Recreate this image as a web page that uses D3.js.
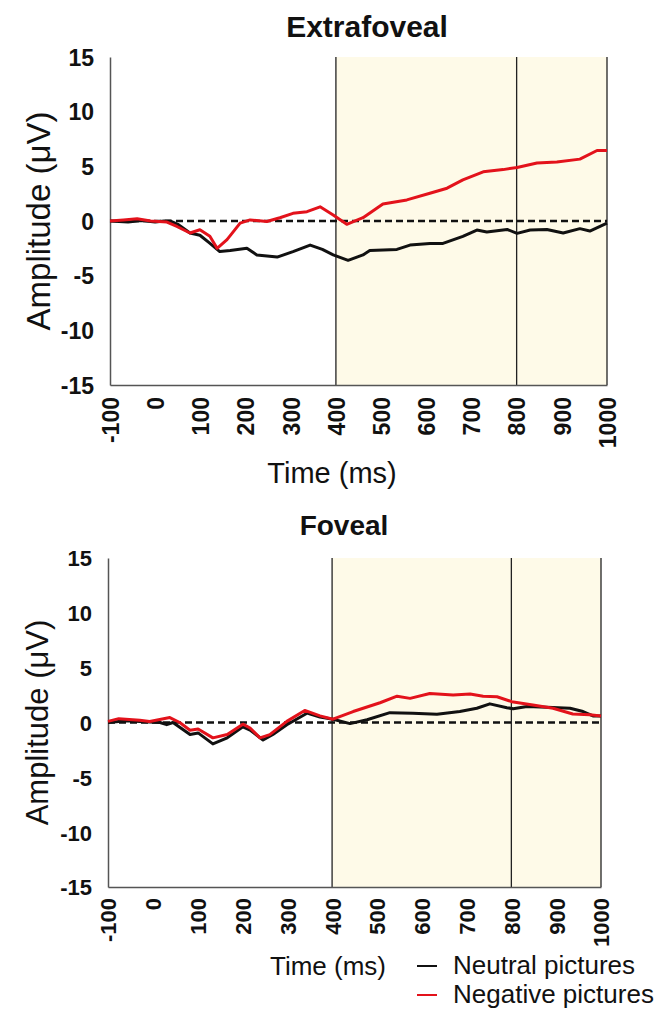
<!DOCTYPE html>
<html>
<head>
<meta charset="utf-8">
<script src="https://cdn.jsdelivr.net/npm/d3@7"></script>
<style>
  body { margin: 0; background: #ffffff; }
  svg text { font-family: "Liberation Sans", Arial, sans-serif; fill: #111; }
</style>
</head>
<body>
<svg id="fig" width="670" height="1020"></svg>
<script>
// tick values, shared by both panels
const timeTicks = [-100, 0, 100, 200, 300, 400, 500, 600, 700, 800, 900, 1000];
const ampTicks  = [-15, -10, -5, 0, 5, 10, 15];
const markLines = [400, 800, 1000];   // vertical lines
const shadeSpan = [400, 1000];        // highlighted window

// Extrafoveal, neutral pictures (black)
const extraNeutralT = [-100, -60, -30, 0, 20, 33, 50, 77, 99, 120, 143, 166, 203, 225, 270, 305, 343, 370, 394, 427, 460, 475, 535, 564, 608, 637, 681, 712, 734, 779, 801, 830, 867, 903, 940, 962, 1000];
const extraNeutralV = [0, -0.1, 0.05, -0.1, 0, 0, -0.3, -1.1, -1.3, -2.0, -2.8, -2.7, -2.5, -3.1, -3.3, -2.8, -2.2, -2.6, -3.1, -3.6, -3.1, -2.7, -2.6, -2.2, -2.05, -2.05, -1.4, -0.83, -1.0, -0.77, -1.13, -0.83, -0.77, -1.1, -0.7, -0.92, -0.2];

// Extrafoveal, negative pictures (red)
const extraNegT = [-100, -70, -40, -10, 26, 48, 77, 99, 121, 137, 159, 188, 210, 247, 276, 305, 336, 365, 394, 424, 460, 504, 557, 608, 646, 681, 726, 770, 801, 845, 889, 940, 978, 1000];
const extraNegV = [0, 0.1, 0.2, 0, -0.1, -0.5, -1.1, -0.8, -1.4, -2.5, -1.7, -0.2, 0.1, -0.05, 0.3, 0.7, 0.85, 1.3, 0.55, -0.3, 0.3, 1.56, 1.93, 2.54, 3.0, 3.76, 4.5, 4.7, 4.9, 5.3, 5.4, 5.66, 6.45, 6.45];

// Foveal, neutral pictures (black)
const fovNeutralT = [-100, -58, -29, 16, 31, 45, 83, 101, 134, 166, 201, 217, 246, 268, 299, 344, 373, 402, 440, 478, 529, 580, 634, 685, 723, 752, 790, 804, 835, 879, 931, 960, 982, 1000];
const fovNeutralV = [0, 0.15, 0.1, 0, -0.2, 0, -1.1, -0.95, -1.95, -1.4, -0.4, -0.7, -1.6, -1.1, -0.2, 0.85, 0.5, 0.3, -0.1, 0.25, 0.9, 0.85, 0.75, 1.0, 1.3, 1.7, 1.35, 1.25, 1.45, 1.4, 1.3, 1.0, 0.6, 0.6];

// Foveal, negative pictures (red)
const fovNegT = [-100, -76, -29, -7, 38, 60, 83, 101, 134, 166, 201, 217, 239, 261, 299, 339, 373, 402, 447, 507, 545, 574, 618, 670, 708, 737, 768, 801, 848, 893, 937, 975, 1000];
const fovNegV = [0.1, 0.35, 0.2, 0.1, 0.45, 0.0, -0.7, -0.6, -1.4, -1.1, -0.15, -0.5, -1.4, -1.1, 0.1, 1.1, 0.6, 0.3, 1.0, 1.8, 2.4, 2.2, 2.65, 2.5, 2.6, 2.4, 2.35, 1.9, 1.6, 1.3, 0.77, 0.7, 0.6];

const legendLabels = ["Neutral pictures", "Negative pictures"];
const seriesColors = ["#111111", "#e3121b"];

const svg = d3.select("#fig");

function zip(ts, vs){ return ts.map((t, i) => ({t: t, v: vs[i]})); }

// plain hyphen, no thousands comma
const plainFmt = d => String(d);

function drawPanel(p){
	const x = d3.scaleLinear().domain([-100, 1000]).range([p.left, p.right]);
	const y = d3.scaleLinear().domain([-15, 15]).range([p.bottom, p.top]);
	const g = svg.append("g");

	// shaded window
	g.append("rect")
		.attr("x", x(shadeSpan[0]))
		.attr("y", p.top)
		.attr("width", x(shadeSpan[1]) - x(shadeSpan[0]))
		.attr("height", p.bottom - p.top)
		.attr("fill", "#fefae8");

	// vertical markers
	g.selectAll(".vline")
		.data(markLines)
		.enter()
			.append("line")
				.attr("x1", d => x(d)).attr("x2", d => x(d))
				.attr("y1", p.top).attr("y2", p.bottom)
				.attr("stroke", "#222").attr("stroke-width", 1.3);

	// zero line
	g.append("line")
		.attr("x1", x(-100)).attr("x2", x(1000))
		.attr("y1", y(0)).attr("y2", y(0))
		.attr("stroke", "#111").attr("stroke-width", 2.6)
		.attr("stroke-dasharray", "7,4");

	// axes
	const yAx = g.append("g")
		.attr("transform", "translate(" + p.left + ",0)")
		.call(d3.axisLeft(y).tickValues(ampTicks).tickFormat(plainFmt).tickSize(0).tickPadding(p.yPad).tickSizeOuter(0));
	yAx.selectAll("text")
		.style("font-size", p.yFont + "px").style("font-weight", "bold")
		.attr("dy", "0.36em");

	const xAx = g.append("g")
		.attr("transform", "translate(0," + p.bottom + ")")
		.call(d3.axisBottom(x).tickValues(timeTicks).tickFormat(plainFmt).tickSize(0).tickSizeOuter(0));
	xAx.selectAll("text")
		.style("font-size", p.xFont + "px").style("font-weight", "bold")
		.attr("text-anchor", "end")
		.attr("transform", "translate(0," + p.xPad + ") rotate(-90)")
		.attr("x", 0).attr("y", 0).attr("dy", "0.36em");
	g.selectAll(".domain").attr("stroke", "#555").attr("stroke-width", 1.5);

	// series
	const line = d3.line().x(d => x(d.t)).y(d => y(d.v));
	p.series.forEach((s, i) => {
		g.append("path")
			.datum(s)
			.attr("d", line)
			.attr("fill", "none")
			.attr("stroke", seriesColors[i])
			.attr("stroke-width", 3)
			.attr("stroke-linejoin", "round");
	});

	// titles
	g.append("text")
		.attr("x", p.titleX).attr("y", p.titleY)
		.attr("text-anchor", "middle")
		.style("font-size", p.titleFont + "px").style("font-weight", "bold")
		.text(p.title);

	g.append("text")
		.attr("x", p.xLabX).attr("y", p.xLabY)
		.attr("text-anchor", "middle")
		.style("font-size", p.labFont + "px")
		.text("Time (ms)");

	g.append("text")
		.attr("transform", "translate(" + p.yLabX + "," + ((p.top + p.bottom) / 2) + ") rotate(-90)")
		.attr("text-anchor", "middle")
		.style("font-size", p.yLabFont + "px")
		.text("Amplitude (\u03BCV)");
}

drawPanel({
	left: 110, right: 607, top: 57, bottom: 385,
	yPad: 16, yFont: 23, xPad: 12, xFont: 23,
	title: "Extrafoveal", titleX: 367, titleY: 37, titleFont: 30,
	xLabX: 332, xLabY: 483, labFont: 29, yLabX: 50, yLabFont: 33,
	series: [zip(extraNeutralT, extraNeutralV), zip(extraNegT, extraNegV)]
});

drawPanel({
	left: 108, right: 601, top: 558, bottom: 887,
	yPad: 16, yFont: 22, xPad: 11, xFont: 22,
	title: "Foveal", titleX: 344, titleY: 535, titleFont: 28,
	xLabX: 328, xLabY: 975, labFont: 26, yLabX: 48, yLabFont: 31,
	series: [zip(fovNeutralT, fovNeutralV), zip(fovNegT, fovNegV)]
});

// legend
const leg = svg.append("g").attr("transform", "translate(417,966)");
legendLabels.forEach((lab, i) => {
	leg.append("line")
		.attr("x1", 0).attr("x2", 20)
		.attr("y1", i * 29).attr("y2", i * 29)
		.attr("stroke", seriesColors[i]).attr("stroke-width", 2);
	leg.append("text")
		.attr("x", 36).attr("y", i * 29 + 8)
		.style("font-size", "26px")
		.text(lab);
});
</script>
</body>
</html>
